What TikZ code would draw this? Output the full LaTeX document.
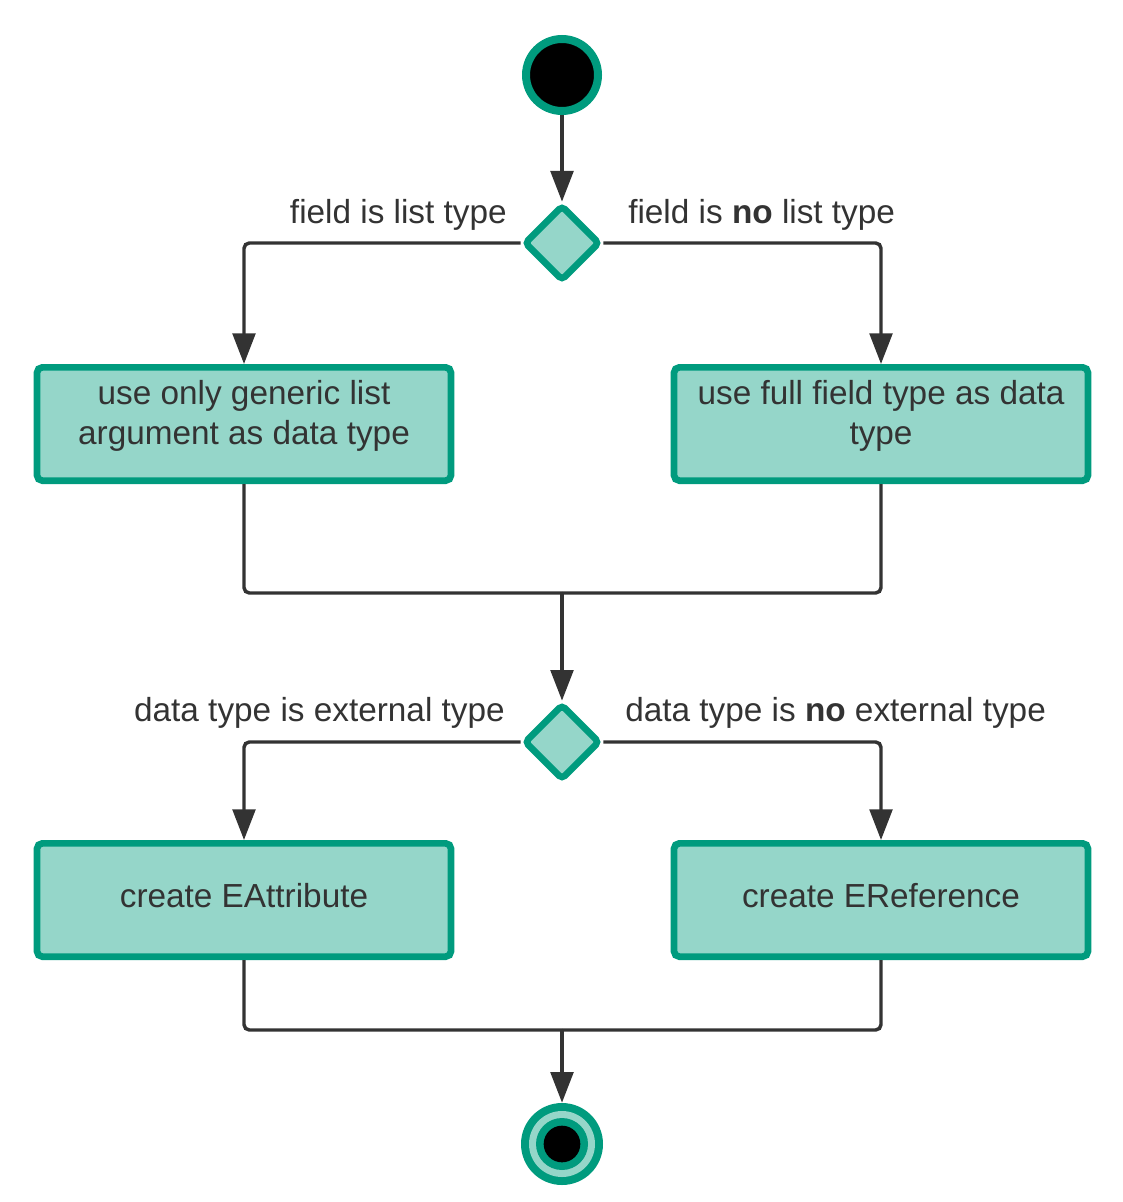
\documentclass[tikz,border=0pt]{standalone}
\usepackage{fontspec}
\setmainfont{Liberation Sans}
\usetikzlibrary{arrows.meta,shapes.geometric}
\definecolor{dgreen}{HTML}{009B7E}
\definecolor{lgreen}{HTML}{95D6C9}
\definecolor{ink}{HTML}{333333}
\tikzset{
  actbox/.style={draw=dgreen, fill=lgreen, line width=5pt, rounded corners=4pt, minimum width=310.5pt, minimum height=85pt, align=center, text=ink, font=\fontsize{25}{30}\selectfont, inner sep=0pt},
  decis/.style={draw=dgreen, fill=lgreen, line width=5pt, diamond, rounded corners=3pt, minimum width=57pt, minimum height=57pt, inner sep=0pt},
  conn/.style={draw=ink, line width=2.6pt, rounded corners=4pt},
  arr/.style={conn, -{Triangle[length=23pt,width=17pt]}},
  lbl/.style={text=ink, font=\fontsize{25}{30}\selectfont, inner sep=0pt},
}
\begin{document}
\begin{tikzpicture}[x=0.75pt,y=-0.75pt]
\useasboundingbox (0,0) rectangle (1123,1202);
% start
\node[circle, draw=dgreen, fill=black, line width=6pt, minimum size=54pt, inner sep=0pt] (start) at (562,75) {};
% decision 1
\node[decis] (d1) at (562,243) {};
\node[lbl, anchor=east] (l1) at (507,215) {field is list type};
\node[lbl, anchor=west] (r1) at (628,215) {field is \textbf{no} list type};
% boxes
\node[actbox, text depth=17pt] (b1) at (244,424) {use only generic list\\argument as data type};
\node[actbox, text depth=17pt] (b2) at (881,424) {use full field type as data\\type};
\coordinate (m1) at (562,593);
% decision 2
\node[decis] (d2) at (562,742) {};
\node[lbl, anchor=east] (l2) at (505,713) {data type is external type};
\node[lbl, anchor=west] (r2) at (625,713) {data type is \textbf{no} external type};
\node[actbox, text depth=7pt] (b3) at (244,900) {create EAttribute};
\node[actbox, text depth=7pt] (b4) at (881,900) {create EReference};
\coordinate (m2) at (562,1030);
% end
\node[circle, fill=dgreen, minimum size=61.5pt, inner sep=0pt] (endn) at (562,1144) {};
\node[circle, fill=lgreen, minimum size=49.5pt, inner sep=0pt] (endl) at (endn) {};
\node[circle, fill=dgreen, minimum size=39pt, inner sep=0pt] (endg) at (endn) {};
\node[circle, fill=black, minimum size=27.5pt, inner sep=0pt] (endb) at (endn) {};
% connectors
\draw[arr] (start.south) -- (d1.north);
\draw[arr] (d1.west) -| (b1.north);
\draw[arr] (d1.east) -| (b2.north);
\draw[conn] (b1.south) |- (m1);
\draw[conn] (b2.south) |- (m1);
\draw[arr] (m1) -- (d2.north);
\draw[arr] (d2.west) -| (b3.north);
\draw[arr] (d2.east) -| (b4.north);
\draw[conn] (b3.south) |- (m2);
\draw[conn] (b4.south) |- (m2);
\draw[arr] (m2) -- (endn.north);
\end{tikzpicture}
\end{document}
